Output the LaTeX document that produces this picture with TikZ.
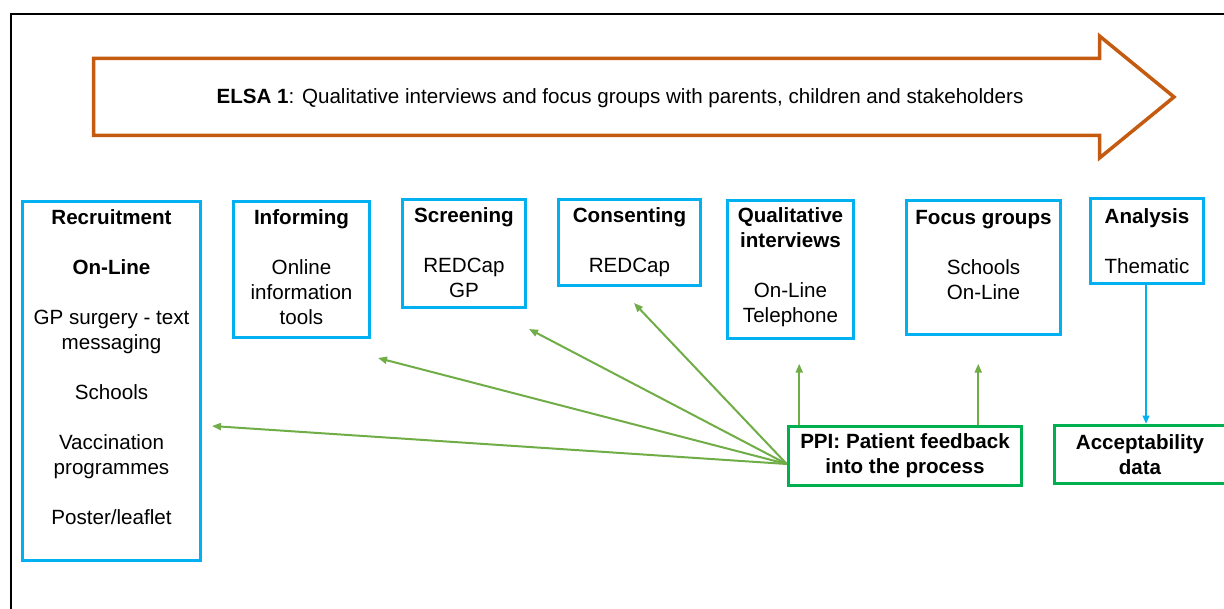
\documentclass[tikz,border=0pt]{standalone}
\usepackage{fontspec}
\setmainfont{Liberation Sans}
\usepackage{tikz}
\usetikzlibrary{arrows.meta,positioning}
\definecolor{boxblue}{HTML}{00B0F0}
\definecolor{ppigreen}{HTML}{00B050}
\definecolor{fbgreen}{HTML}{70AD47}
\definecolor{elsaorange}{HTML}{C55A11}
\newcommand{\boxfont}{\fontsize{20.6}{25}\selectfont}

\begin{document}
\begin{tikzpicture}[x=1pt,y=-1pt,
        stage/.style={rectangle, draw=boxblue, line width=3.5pt, inner sep=0pt},
        stagetext/.style={inner sep=0pt, align=center, font=\boxfont},
        ppibox/.style={rectangle, draw=ppigreen, line width=3.5pt, align=center, inner sep=0pt, font=\boxfont\bfseries},
        fb/.style={draw=fbgreen, line width=2pt, -{Triangle[length=9pt,width=7pt]}},
        toacc/.style={draw=boxblue, line width=1.8pt, -{Triangle[length=8pt,width=6.5pt]}}]

    \useasboundingbox (0,0) rectangle (1224,609);

    % frame (only top and left show)
    \draw[line width=2pt] (1240,14.5) -- (10.5,14.5) -- (10.5,620);

    % big ELSA arrow
    \draw[elsaorange, line width=3.5pt, line join=miter]
        (93.5,58.5) -- (1099.5,58.5) -- (1099.5,36) -- (1174,97) -- (1099.5,158) -- (1099.5,135.5) -- (93.5,135.5) -- cycle;
    \node[font=\boxfont, inner sep=0pt] (elsa) at (620,98.5) {\textbf{ELSA 1}: Qualitative interviews and focus groups with parents, children and stakeholders};

    % stage boxes
    \foreach \n/\cx/\cy/\w/\h in {recruit/111.5/381/178/359, inform/301.5/269.5/136/136,
            screen/464/253.5/123/108, consent/629.5/242.5/142/86, qualit/790.5/269.5/126/138,
            focus/983.5/267.5/154/134, analysis/1147/241/113/85}{
        \node[stage, minimum width=\w pt, minimum height=\h pt] (\n) at (\cx,\cy) {};
    }

    \node[stagetext, below=10pt of recruit.north] (recruittext) {\textbf{Recruitment}\\[25pt] \textbf{On-Line}\\[25pt]
        GP surgery - text\\ messaging\\[25pt] Schools\\[25pt] Vaccination\\ programmes\\[25pt] Poster/leaflet};
    \node[stagetext, below=10pt of inform.north] (informtext) {\textbf{Informing}\\[25pt] Online\\ information\\ tools};
    \node[stagetext, below=10pt of screen.north] (screentext) {\textbf{Screening}\\[25pt] REDCap\\ GP};
    \node[stagetext, below=10pt of consent.north] (consenttext) {\textbf{Consenting}\\[25pt] REDCap};
    \node[stagetext, below=9pt of qualit.north] (qualittext) {\textbf{Qualitative}\\ \textbf{interviews}\\[25pt] On-Line\\ Telephone};
    \node[stagetext, below=11pt of focus.north] (focustext) {\textbf{Focus groups}\\[25pt] Schools\\ On-Line};
    \node[stagetext, below=12pt of analysis.north] (analysistext) {\textbf{Analysis}\\[25pt] Thematic};

    % green boxes
    \node[ppibox, minimum width=233pt, minimum height=59pt] (ppi) at (905,456) {PPI: Patient feedback\\ into the process};
    \node[ppibox, minimum width=171pt, minimum height=58pt] (accept) at (1140,454.5) {Acceptability\\ data};

    % feedback arrows
    \coordinate (fanstart) at ([yshift=-8pt]ppi.west);
    \coordinate (tipR) at (212,426);
    \coordinate (tipI) at (378,358);
    \coordinate (tipS) at (529,329);
    \coordinate (tipC) at (634,303);
    \foreach \t in {tipR,tipI,tipS,tipC}{
        \draw[fb] (fanstart) -- (\t);
    }
    \draw[fb] ([xshift=12.5pt]ppi.north west) -- ++(0,-61);
    \draw[fb] ([xshift=191.5pt]ppi.north west) -- ++(0,-61);

    \draw[toacc] (analysis.south -| 1146,0) -- (accept.north -| 1146,0);
\end{tikzpicture}
\end{document}
